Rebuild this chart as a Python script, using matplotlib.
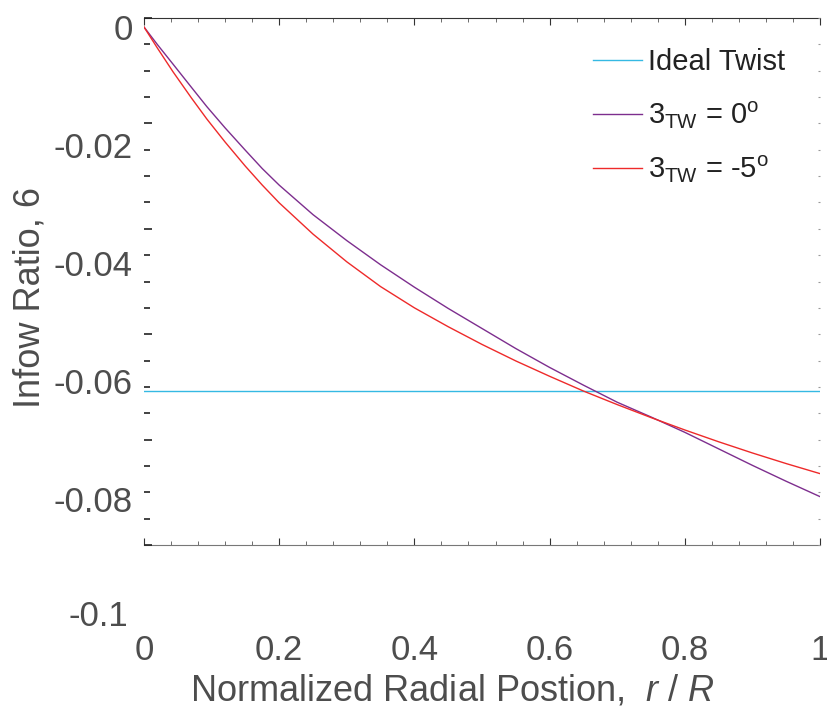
import numpy as np
import matplotlib
matplotlib.use('Agg')
from matplotlib import pyplot as plt
from matplotlib import transforms

plt.rcParams['font.family'] = ['Liberation Sans', 'DejaVu Sans']
plt.rcParams['mathtext.fontset'] = 'custom'
plt.rcParams['mathtext.rm'] = 'Liberation Sans'
plt.rcParams['mathtext.it'] = 'Liberation Sans:italic'

# radial position r/R
r_pos = [0, 0.02, 0.043, 0.07, 0.093, 0.12, 0.15, 0.175, 0.2, 0.25, 0.3, 0.35,
         0.4, 0.45, 0.5, 0.55, 0.6, 0.65, 0.7, 0.75, 0.8, 0.85, 0.9, 0.95, 1.0]
# inflow ratio, twist 0 deg
inflow_tw0 = [0, -0.0030, -0.0063, -0.0102, -0.0135, -0.0171, -0.0209, -0.0240,
              -0.0268, -0.0318, -0.0362, -0.0403, -0.0441, -0.0477, -0.0511,
              -0.0545, -0.0577, -0.0607, -0.0636, -0.0661, -0.0687, -0.0715,
              -0.0743, -0.0770, -0.0796]
# inflow ratio, twist -5 deg
inflow_tw5 = [0, -0.0036, -0.0076, -0.0120, -0.0156, -0.0195, -0.0236, -0.0268,
              -0.0298, -0.0351, -0.0398, -0.0440, -0.0476, -0.0508, -0.0538,
              -0.0566, -0.0592, -0.0617, -0.0640, -0.0662, -0.0683, -0.0703,
              -0.0722, -0.0740, -0.0757]
# ideal twist (constant)
ideal_r = [0, 1]
ideal_inflow = [-0.0617, -0.0617]

xtick_vals = [0, 0.2, 0.4, 0.6, 0.8, 1]
xtick_labels = ['0', '0.2', '0.4', '0.6', '0.8', '1']
ytick_vals = [0, -0.02, -0.04, -0.06, -0.08]
ytick_labels = ['0', '-0.02', '-0.04', '-0.06', '-0.08']
ytick_extra = -0.1

txt = '#4d4d4d'
fig = plt.figure(figsize=(8.27, 7.10), dpi=100)
pos = [144 / 827, 1 - 545 / 710, 676 / 827, 527 / 710]
ax = fig.add_axes(pos)

ax.plot(ideal_r, ideal_inflow, color='#35b9e3', lw=1.0, label='Ideal Twist')
ax.plot(r_pos, inflow_tw0, color='#7d2e8e', lw=1.0,
        label=r'3$_{\mathregular{TW}}$ = 0$^{\mathregular{o}}$')
ax.plot(r_pos, inflow_tw5, color='#ee2a2a', lw=1.0,
        label=r'3$_{\mathregular{TW}}$ = -5$^{\mathregular{o}}$')

ax.set_xlim(0, 1)
ax.set_ylim(-0.0878, 0.00153)
ax.spines['left'].set_visible(False)
ax.spines['right'].set_visible(False)
ax.spines['top'].set_color('#333333')
ax.spines['bottom'].set_color('#777777')

ax.set_xticks(xtick_vals)
ax.set_xticklabels(xtick_labels)
ax.set_xticks(np.arange(0, 1.001, 0.04), minor=True)
ax.tick_params(axis='x', which='major', direction='in', top=True, length=5,
               color='#333333', pad=64, labelsize=25, labelcolor=txt)
ax.tick_params(axis='x', which='minor', direction='in', top=True, length=3,
               color='#555555')

ax.set_yticks(ytick_vals)
ax.set_yticklabels(ytick_labels)
ax.tick_params(axis='y', which='both', length=0, pad=8, labelsize=25,
               labelcolor=txt)
trans = transforms.blended_transform_factory(ax.transAxes, ax.transData)
ax.text(-0.024, ytick_extra, '-0.1', transform=trans, ha='right', va='center',
        fontsize=25, color=txt, clip_on=False)

# tick marks on the sides of the frame
axt = fig.add_axes(pos, sharex=ax)
axt.set_ylim(-0.1, 0)
axt.patch.set_visible(False)
for s in axt.spines.values():
    s.set_visible(False)
axt.set_yticks(np.arange(-0.1, 0.001, 0.02))
axt.set_yticks(np.arange(-0.1, 0.001, 0.005), minor=True)
axt.tick_params(axis='y', which='major', direction='in', length=6, width=1.2,
                color='#222222', labelleft=False)
axt.tick_params(axis='y', which='minor', direction='in', length=4, width=1.2,
                color='#222222', labelleft=False)
axt.tick_params(axis='x', which='both', bottom=False, top=False,
                labelbottom=False)

axr = axt.twinx()
axr.set_ylim(-0.1, 0)
for s in axr.spines.values():
    s.set_visible(False)
axr.set_yticks(np.arange(-0.1, 0.001, 0.005))
axr.tick_params(axis='y', direction='in', length=1.5, color='#999999',
                labelright=False)

fig.text(452 / 827, 1 - 691 / 710,
         'Normalized Radial Postion,  $\\it{r}$ / $\\it{R}$',
         ha='center', va='center', fontsize=26, color=txt)
fig.text(30 / 827, 1 - 297 / 710, 'Infow Ratio, 6', rotation=90,
         ha='center', va='center', fontsize=26, color=txt)

ax.legend(loc='upper left', bbox_to_anchor=(0.664, 0.943), frameon=False,
          fontsize=21, handlelength=1.7, handletextpad=0.2, labelspacing=0.8,
          borderpad=0, borderaxespad=0, labelcolor='#222222')

fig.savefig('out.png', dpi=100)
